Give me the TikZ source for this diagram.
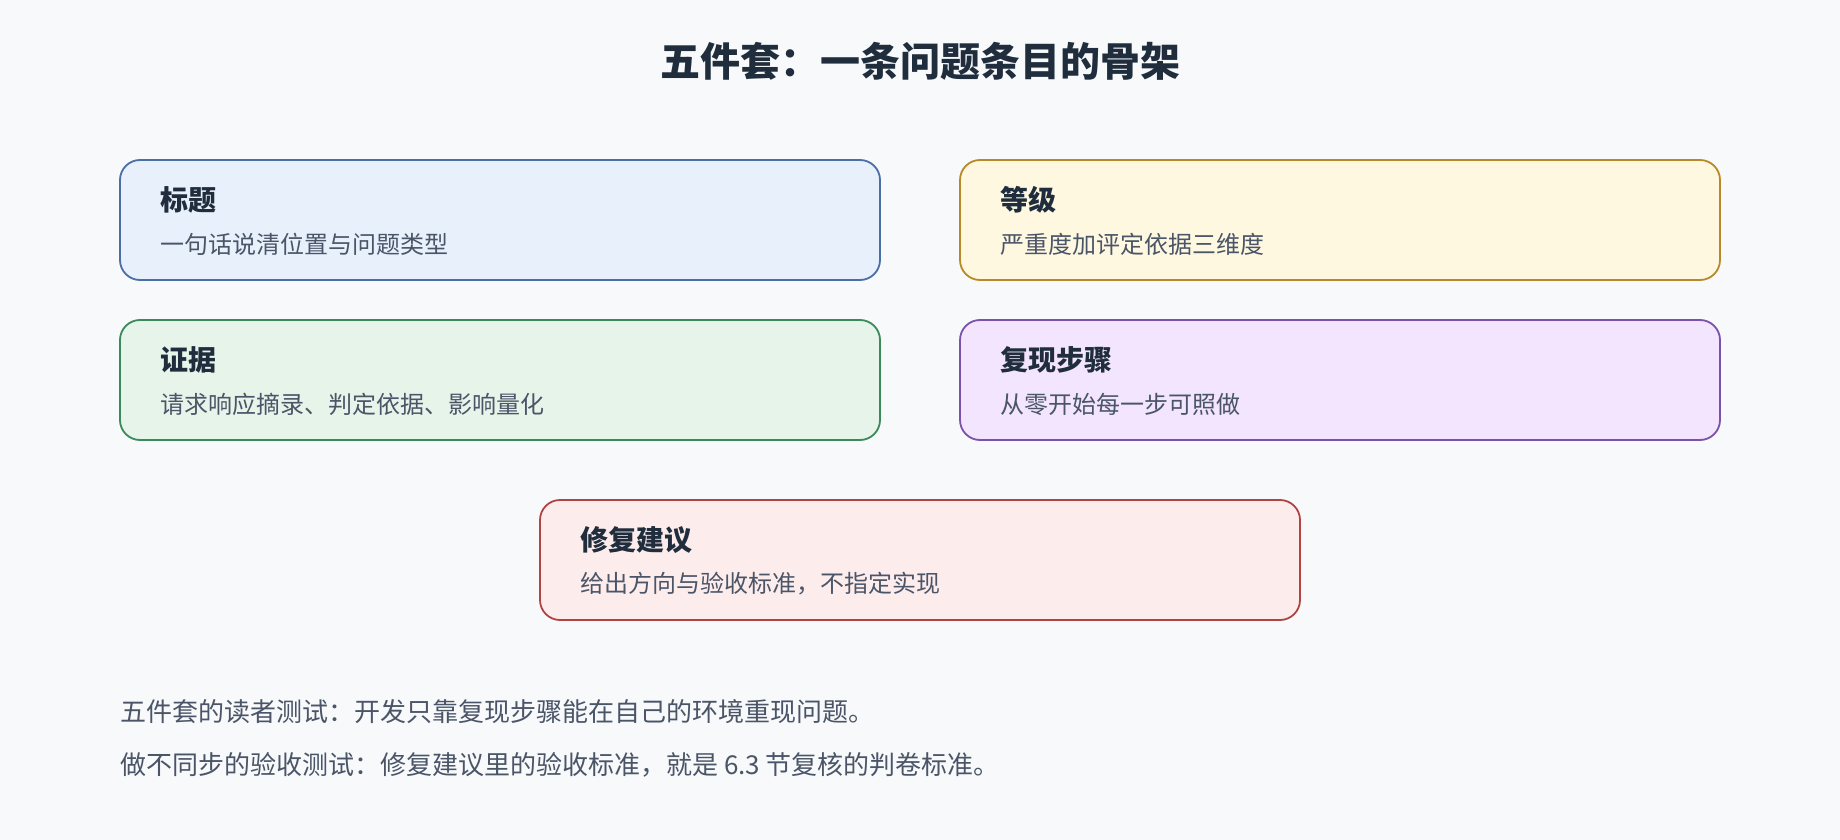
\documentclass[tikz,border=0pt]{standalone}
\usepackage{fontspec}
\setmainfont{Noto Sans CJK SC}
\usepackage{xcolor}
\usetikzlibrary{positioning}

\definecolor{pagebg}{HTML}{F8F9FB}
\definecolor{ink}{HTML}{1F2D3D}
\definecolor{subink}{HTML}{4A5568}
\definecolor{blueline}{HTML}{4A6FA5}
\definecolor{bluefill}{HTML}{E8F0FC}
\definecolor{goldline}{HTML}{B8892B}
\definecolor{goldfill}{HTML}{FFF8E1}
\definecolor{greenline}{HTML}{3A8A5A}
\definecolor{greenfill}{HTML}{E6F4EA}
\definecolor{violetline}{HTML}{7B52AB}
\definecolor{violetfill}{HTML}{F3E5FD}
\definecolor{redline}{HTML}{B04444}
\definecolor{redfill}{HTML}{FDECEC}

\begin{document}
\begin{tikzpicture}[x=1pt, y=1pt, node distance=40pt,
	card/.style={draw, rounded corners=20pt, line width=1.8pt, minimum width=760pt, minimum height=120pt, outer sep=0pt},
	head/.style={font=\fontsize{28}{33}\selectfont\bfseries, text=ink, inner sep=0pt},
	sub/.style={font=\fontsize{24}{29}\selectfont, text=subink, inner sep=0pt},
	note/.style={font=\fontsize{26}{31}\selectfont, text=subink, inner sep=0pt, anchor=west}]
	\fill[pagebg] (0,0) rectangle (1840,-840);
	\node[font=\fontsize{40}{48}\selectfont\bfseries, text=ink] (title) at (920,-61) {五件套：一条问题条目的骨架};
	\node[card, draw=blueline, fill=bluefill] (b1) at (500,-220) {};
	\node[card, draw=goldline, fill=goldfill, right=80pt of b1] (b2) {};
	\node[card, draw=greenline, fill=greenfill, below=of b1] (b3) {};
	\node[card, draw=violetline, fill=violetfill, below=of b2] (b4) {};
	\node[card, draw=redline, fill=redfill, below=60pt of b3, xshift=420pt] (b5) {};
	\node[head, right=40pt of b1.north west, yshift=-40pt] (b1h) {标题};
	\node[sub, right=40pt of b1.north west, yshift=-84pt] (b1s) {一句话说清位置与问题类型};
	\node[head, right=40pt of b2.north west, yshift=-40pt] (b2h) {等级};
	\node[sub, right=40pt of b2.north west, yshift=-84pt] (b2s) {严重度加评定依据三维度};
	\node[head, right=40pt of b3.north west, yshift=-40pt] (b3h) {证据};
	\node[sub, right=40pt of b3.north west, yshift=-84pt] (b3s) {请求响应摘录、判定依据、影响量化};
	\node[head, right=40pt of b4.north west, yshift=-40pt] (b4h) {复现步骤};
	\node[sub, right=40pt of b4.north west, yshift=-84pt] (b4s) {从零开始每一步可照做};
	\node[head, right=40pt of b5.north west, yshift=-40pt] (b5h) {修复建议};
	\node[sub, right=40pt of b5.north west, yshift=-84pt] (b5s) {给出方向与验收标准，不指定实现};
	\node[note] (n1) at (120,-712) {五件套的读者测试：开发只靠复现步骤能在自己的环境重现问题。};
	\node[note] (n2) at (120,-765) {做不同步的验收测试：修复建议里的验收标准，就是 6.3 节复核的判卷标准。};
\end{tikzpicture}
\end{document}
